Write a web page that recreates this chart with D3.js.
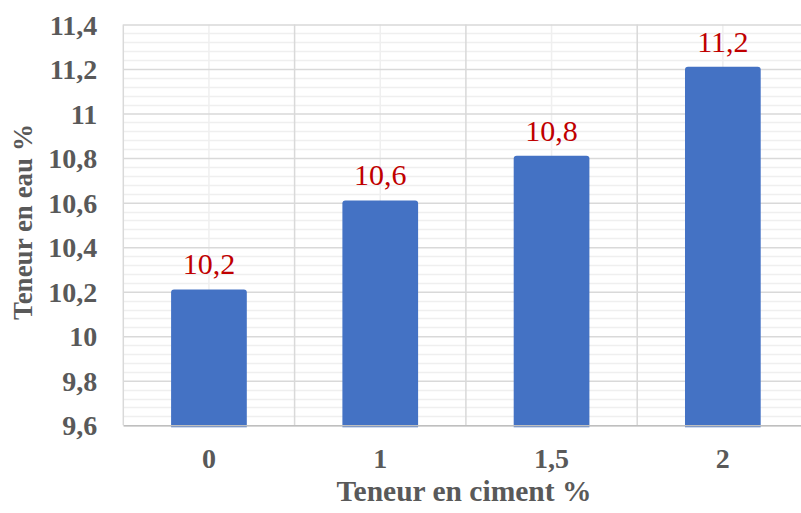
<!DOCTYPE html>
<html>
<head>
<meta charset="utf-8">
<script src="https://cdn.jsdelivr.net/npm/d3@7"></script>
<style>
  body { margin: 0; background: #fff; }
  svg, svg text { font-family: "Liberation Serif", "Times New Roman", serif; }
  svg { display: block; }
  .tick text { fill: #595959; font-weight: bold; font-size: 28px; }
  .chartLabel { fill: #595959; font-weight: bold; font-size: 29.5px; }
  .valueLabel { fill: #c00000; font-size: 30px; }
</style>
</head>
<body>
<div id="chart"></div>
<script>
// Chart data
const categories = ["0", "1", "1,5", "2"];
const waterContent = [10.21, 10.61, 10.81, 11.21];
const yTicks = [9.6, 9.8, 10, 10.2, 10.4, 10.6, 10.8, 11, 11.2, 11.4];
const xTitle = "Teneur en ciment %";
const yTitle = "Teneur en eau %";

// French number format
const fr = d3.formatLocale({ decimal: ",", thousands: " ", grouping: [3], currency: ["", " €"] });
const tickFmt = fr.format("~g"), labelFmt = fr.format(".1f");

// Dimensions
const w = 801, h = 513;
const plotL = 123.3, plotR = 808.5, plotT = 24.5, plotB = 425.3;

let svg = d3.select("#chart").append("svg").attr("width", w).attr("height", h);

// Scales
let xScale = d3.scaleBand().domain(categories).range([plotL, plotR]).paddingInner(0).paddingOuter(0);
let yScale = d3.scaleLinear().domain([9.6, 11.4]).range([plotB, plotT]);
const bw = xScale.bandwidth() * 0.442;

// Minor horizontal gridlines
let minor = [];
for (let i = 0; i < yTicks.length - 1; i++)
  for (let k = 1; k < 5; k++) minor.push(yTicks[i] + (yTicks[i + 1] - yTicks[i]) * k / 5);
svg.append("g").selectAll("line").data(minor).enter().append("line")
  .attr("x1", plotL).attr("x2", plotR)
  .attr("y1", d => Math.round(yScale(d)) + 0.5).attr("y2", d => Math.round(yScale(d)) + 0.5)
  .attr("stroke", "#efefef").attr("stroke-width", 1.5);

// Minor vertical gridlines (category centres)
svg.append("g").selectAll("line").data(categories).enter().append("line")
  .attr("x1", d => xScale(d) + xScale.bandwidth() / 2).attr("x2", d => xScale(d) + xScale.bandwidth() / 2)
  .attr("y1", plotT).attr("y2", plotB)
  .attr("stroke", "#efefef").attr("stroke-width", 1.5);

// Major vertical gridlines (category boundaries)
svg.append("g").selectAll("line").data(categories.concat(["end"])).enter().append("line")
  .attr("x1", (d, i) => plotL + i * xScale.bandwidth()).attr("x2", (d, i) => plotL + i * xScale.bandwidth())
  .attr("y1", plotT).attr("y2", plotB)
  .attr("stroke", "#d9d9d9").attr("stroke-width", 1.5);

// Major horizontal gridlines + y tick labels
let yAxis = d3.axisLeft(yScale).tickValues(yTicks).tickFormat(tickFmt).tickSize(-(plotR - plotL)).tickPadding(26);
let gy = svg.append("g").attr("transform", "translate(" + plotL + ",0)").call(yAxis);
gy.select(".domain").remove();
gy.selectAll(".tick line").attr("stroke", "#d9d9d9").attr("stroke-width", 1.5);
gy.selectAll(".tick text").attr("dy", "0.34em");

// Bars with rounded tops
const r = 3;
svg.append("g").selectAll("path").data(waterContent).enter().append("path")
  .attr("fill", "#4472c4")
  .attr("d", (d, i) => {
    let x0 = xScale(categories[i]) + (xScale.bandwidth() - bw) / 2, x1 = x0 + bw;
    let y0 = yScale(d), y1 = plotB + 2;
    return "M" + x0 + "," + y1 + "V" + (y0 + r) + "Q" + x0 + "," + y0 + " " + (x0 + r) + "," + y0 +
      "H" + (x1 - r) + "Q" + x1 + "," + y0 + " " + x1 + "," + (y0 + r) + "V" + y1 + "Z";
  });

// X axis
let xAxis = d3.axisBottom(xScale).tickSize(0).tickPadding(23);
let gx = svg.append("g").attr("transform", "translate(0," + plotB + ")").call(xAxis);
gx.select(".domain").attr("stroke", "#bfbfbf").attr("stroke-width", 1.5);

// Value labels
svg.append("g").selectAll("text").data(waterContent).enter().append("text")
  .classed("valueLabel", true).attr("text-anchor", "middle")
  .attr("x", (d, i) => xScale(categories[i]) + xScale.bandwidth() / 2)
  .attr("y", d => yScale(d) - 15)
  .text(d => labelFmt(d));

// Axis titles
svg.append("text").classed("chartLabel", true).attr("text-anchor", "middle")
  .attr("x", 464).attr("y", 501).text(xTitle);
svg.append("text").classed("chartLabel", true).attr("text-anchor", "middle")
  .style("font-size", "27px")
  .attr("transform", "translate(32,222) rotate(-90)").text(yTitle);
</script>
</body>
</html>
